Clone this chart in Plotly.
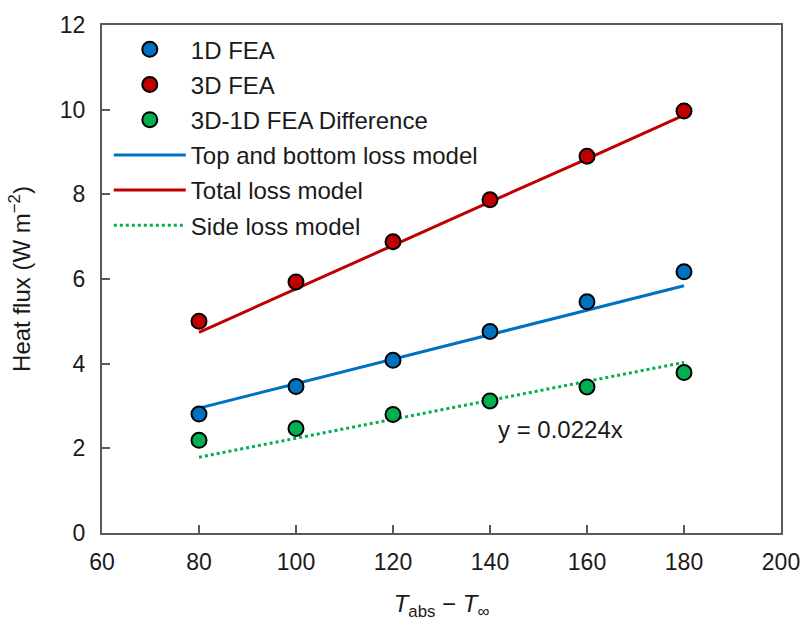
import plotly.graph_objects as go

x_vals = [80, 100, 120, 140, 160, 180]
fea_1d = [2.81, 3.46, 4.08, 4.76, 5.46, 6.17]
fea_3d = [5.00, 5.93, 6.88, 7.87, 8.90, 9.97]
fea_diff = [2.19, 2.47, 2.80, 3.12, 3.45, 3.79]
top_bottom_model = [2.95, 3.53, 4.11, 4.68, 5.26, 5.84]
total_model = [4.74, 5.77, 6.80, 7.82, 8.84, 9.87]
side_model = [1.79, 2.24, 2.69, 3.14, 3.58, 4.03]

x_ticks = [60, 80, 100, 120, 140, 160, 180, 200]
y_ticks = [0, 2, 4, 6, 8, 10, 12]

BLUE = "#0070C0"
RED = "#C00000"
GREEN = "#00B050"
FONT = "Liberation Sans, Arial, sans-serif"
TXT = "#1a1a1a"

fig = go.Figure()

# lines (drawn first, under the markers)
fig.add_trace(go.Scatter(x=x_vals, y=top_bottom_model, mode="lines", name="Top and bottom loss model",
                         line=dict(color=BLUE, width=3), legendrank=4, legendgroup="g4"))
fig.add_trace(go.Scatter(x=x_vals, y=total_model, mode="lines", name="Total loss model",
                         line=dict(color=RED, width=3), legendrank=5, legendgroup="g5"))
fig.add_trace(go.Scatter(x=x_vals, y=side_model, mode="lines", name="Side loss model",
                         line=dict(color=GREEN, width=3, dash="dot"), legendrank=6, legendgroup="g6"))

mk = dict(size=15, line=dict(color="black", width=2))
fig.add_trace(go.Scatter(x=x_vals, y=fea_1d, mode="markers", name="1D FEA",
                         marker=dict(color=BLUE, **mk), legendrank=1, legendgroup="g1"))
fig.add_trace(go.Scatter(x=x_vals, y=fea_3d, mode="markers", name="3D FEA",
                         marker=dict(color=RED, **mk), legendrank=2, legendgroup="g2"))
fig.add_trace(go.Scatter(x=x_vals, y=fea_diff, mode="markers", name="3D-1D FEA Difference",
                         marker=dict(color=GREEN, **mk), legendrank=3, legendgroup="g3"))

fig.add_annotation(x=154.5, y=2.45, text="y = 0.0224x", showarrow=False,
                   font=dict(size=24, color=TXT, family=FONT))

axis_common = dict(showgrid=False, zeroline=False, showline=True, mirror=True,
                   linecolor="#595959", linewidth=2, ticks="inside", ticklen=8,
                   tickwidth=1.5, tickcolor="#595959",
                   tickfont=dict(size=23, color=TXT, family=FONT))

fig.update_xaxes(range=[60, 200], tickvals=x_ticks, ticktext=[str(v) for v in x_ticks],
                 title=dict(text="<i>T</i><sub>abs</sub> − <i>T</i><sub>∞</sub>",
                            font=dict(size=24, color=TXT, family=FONT), standoff=22),
                 ticklabelstandoff=7, **axis_common)
fig.update_yaxes(range=[0, 12], tickvals=y_ticks, ticktext=[str(v) for v in y_ticks],
                 title=dict(text="Heat flux (W m<sup>−2</sup>)",
                            font=dict(size=24, color=TXT, family=FONT), standoff=22),
                 ticklabelstandoff=10, **axis_common)

fig.update_layout(
    width=812, height=641,
    margin=dict(l=102, r=24, t=19, b=108),
    paper_bgcolor="white", plot_bgcolor="white",
    font=dict(family=FONT, color=TXT),
    legend=dict(x=0.01, y=0.9957, xanchor="left", yanchor="top",
                font=dict(size=24, color=TXT, family=FONT),
                bgcolor="rgba(0,0,0,0)", tracegroupgap=1, traceorder="grouped",
                itemwidth=72),
)

fig.write_html("out.html")
